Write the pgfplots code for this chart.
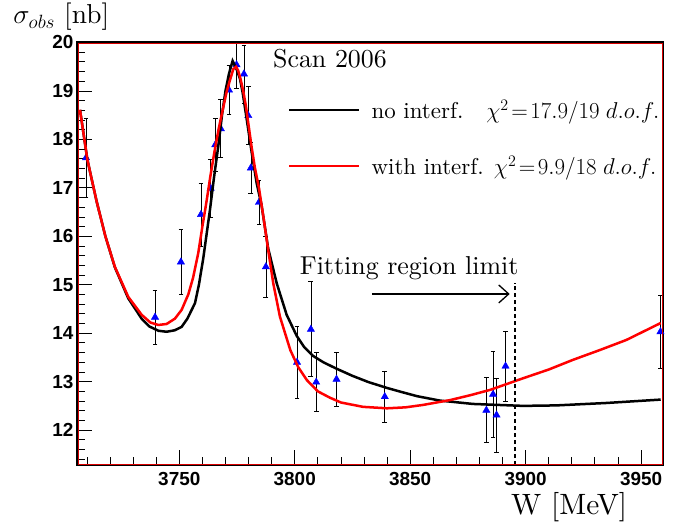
\documentclass[border=0pt]{standalone}
\usepackage{fix-cm}
\usepackage{fontspec}
\setmainfont{lmroman10-regular.otf}[ItalicFont=lmroman10-italic.otf, BoldFont=lmroman10-bold.otf]
\newfontfamily\tickfont{Liberation Sans}
\usepackage{pgfplots}
\usepackage{pgfplotstable}
\pgfplotsset{compat=1.18}
\usetikzlibrary{arrows.meta}

\pgfplotstableread{
x y e
3709.6 17.62 0.82
3739.5 14.33 0.55
3750.7 15.47 0.67
3759.4 16.45 0.65
3763.6 16.99 0.60
3765.6 17.89 0.55
3768.0 18.22 0.60
3771.5 19.02 0.50
3774.8 19.54 0.48
3778.0 19.35 0.60
3779.9 18.49 0.60
3781.0 17.41 0.53
3784.5 16.70 0.45
3787.5 15.37 0.63
3801.0 13.40 0.74
3807.0 14.08 0.98
3809.3 12.99 0.61
3818.1 13.05 0.55
3839.0 12.69 0.52
3883.0 12.41 0.67
3885.9 12.74 0.89
3887.4 12.31 0.76
3891.3 13.32 0.72
3958.4 14.03 0.75
}\datapts

\pgfplotstableread{
x y
3707.0 18.61
3710.2 17.58
3714.2 16.72
3718.0 16.00
3722.1 15.36
3727.9 14.72
3733.7 14.30
3737.0 14.14
3741.0 14.05
3744.5 14.03
3748.0 14.06
3751.0 14.13
3753.5 14.30
3756.8 14.62
3758.5 15.00
3760.4 15.55
3763.3 16.55
3765.0 17.20
3767.0 17.90
3768.5 18.50
3770.0 19.00
3771.5 19.35
3773.1 19.62
3774.8 19.45
3776.3 19.25
3777.5 18.95
3779.1 18.45
3781.3 17.75
3783.5 17.10
3785.6 16.65
3788.5 15.75
3792.2 15.03
3796.5 14.38
3800.8 13.95
3804.0 13.72
3808.0 13.53
3812.4 13.40
3818.0 13.27
3825.0 13.12
3832.0 12.99
3840.0 12.87
3846.0 12.79
3853.0 12.70
3862.8 12.61
3877.2 12.54
3898.9 12.50
3913.3 12.51
3935.0 12.56
3958.5 12.63
}\nointerf

\pgfplotstableread{
x y
3707.0 18.61
3710.2 17.58
3714.2 16.72
3718.0 16.00
3722.1 15.37
3727.9 14.75
3733.7 14.38
3737.5 14.22
3740.9 14.17
3744.5 14.19
3748.1 14.30
3751.0 14.48
3753.9 14.80
3756.0 15.15
3758.2 15.65
3760.0 16.20
3761.8 16.72
3763.5 17.25
3765.4 17.79
3767.2 18.25
3769.0 18.65
3770.5 18.98
3771.8 19.20
3773.4 19.45
3774.6 19.50
3775.5 19.42
3776.5 19.25
3777.7 19.00
3778.8 18.70
3779.9 18.33
3781.3 17.85
3782.8 17.40
3784.5 17.00
3786.4 16.41
3788.5 15.72
3790.7 15.03
3793.6 14.34
3798.1 13.65
3801.5 13.30
3805.3 13.03
3810.0 12.80
3815.2 12.67
3820.0 12.57
3829.6 12.48
3840.0 12.45
3848.0 12.47
3855.6 12.52
3867.3 12.62
3876.0 12.72
3884.6 12.83
3898.9 13.07
3910.0 13.25
3920.5 13.45
3932.0 13.65
3943.6 13.86
3958.5 14.21
}\withinterf

\begin{document}
\begin{tikzpicture}
\useasboundingbox (-77bp,-58bp) rectangle (609bp,465bp);
\begin{axis}[
  at={(0,0)}, anchor=south west,
  scale only axis, width=586bp, height=423bp,
  xmin=3705.7, xmax=3959.5, ymin=11.28, ymax=20.01,
  xtick={3750,3800,3850,3900,3950},
  ytick={12,13,14,15,16,17,18,19,20},
  minor xtick={3710,3720,...,3950},
  minor ytick={11.4,11.6,...,19.9},
  tick align=inside, xtick pos=bottom, ytick pos=left,
  major tick length=15bp, minor tick length=8bp,
  tick style={black, line width=0.8bp},
  axis line style={draw=black, line width=1.5bp},
  ticklabel style={font=\tickfont\bfseries\fontsize{19}{21}\selectfont},
  /pgf/number format/assume math mode=true,
  /pgf/number format/1000 sep={},
  xticklabel style={yshift=-4bp},
  clip mode=individual,
  legend style={at={(0.36,0.868)}, anchor=north west, draw=none, fill=none,
    inner sep=0pt, row sep=32bp, font=\fontsize{23}{25}\selectfont,
    /tikz/every odd column/.append style={column sep=9bp}},
  legend cell align=left,
  legend image code/.code={\draw[#1] (0bp,0bp) -- (70bp,0bp);},
]
\addplot[forget plot, only marks, mark=triangle*, mark size=4.2bp,
  mark options={blue, fill=blue},
  error bars/.cd, y dir=both, y explicit,
  error bar style={black, line width=0.7bp},
  error mark options={black, rotate=90, mark size=2.4bp, line width=0.7bp}]
  table[x=x, y=y, y error=e] {\datapts};
\addplot[black, line width=2.5bp, no marks] table[x=x,y=y] {\nointerf};
\addlegendentry{no interf.\quad ${\chi^{2}}\mkern2mu{=}\mkern2mu17.9/19\;d.o.f.$}
\addplot[red, line width=2.5bp, no marks] table[x=x,y=y] {\withinterf};
\addlegendentry{with interf. ${\chi^{2}}\mkern2mu{=}\mkern2mu9.9/18\;d.o.f.$}
\addplot[forget plot, black, line width=1.5bp, dash pattern=on 4bp off 3bp]
  coordinates {(3895.3,11.28) (3895.3,15.04)};
\draw[black, line width=1.3bp, -{Straight Barb[length=10bp,width=18bp]}]
  (axis cs:3833.4,14.81) -- (axis cs:3893.1,14.81);
\node[anchor=base west, inner sep=0pt, font=\fontsize{26}{28}\selectfont]
  at (rel axis cs:0.3800,0.4515) {Fitting region limit};
\node[anchor=center, inner sep=0pt, font=\fontsize{26}{28}\selectfont]
  at (rel axis cs:0.4317,0.96) {Scan 2006};
\node[anchor=base west, inner sep=0pt, font=\fontsize{27.5}{29}\selectfont]
  at (rel axis cs:-0.1087,1.0426) {$\sigma_{obs}$ [nb]};
\node[anchor=base west, inner sep=0pt, font=\fontsize{29.5}{31}\selectfont]
  at (rel axis cs:0.7406,-0.1182) {W [MeV]};
\draw[red!85!black, line width=0.5bp] ([xshift=1bp,yshift=1bp]rel axis cs:0,0) rectangle ([xshift=-1bp,yshift=-1bp]rel axis cs:1,1);
\end{axis}
\end{tikzpicture}
\end{document}
